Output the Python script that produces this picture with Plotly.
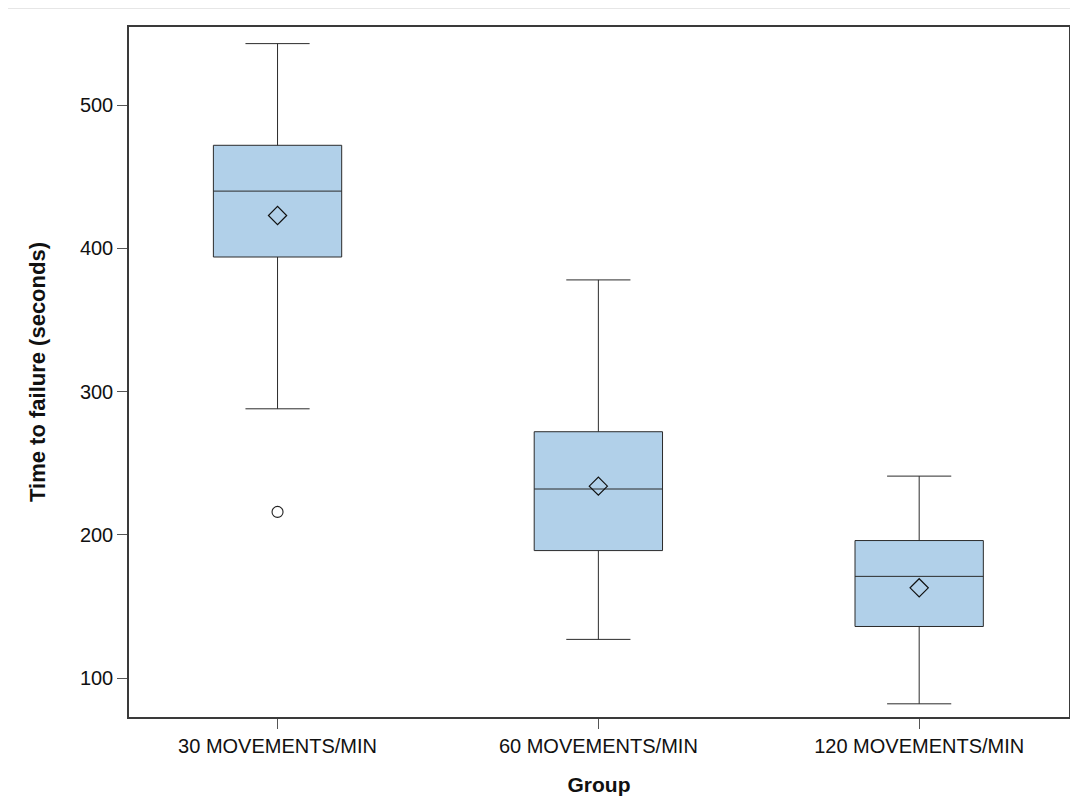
import plotly.graph_objects as go

groups = ["30 MOVEMENTS/MIN", "60 MOVEMENTS/MIN", "120 MOVEMENTS/MIN"]
lower_whisker = [288, 127, 82]
q1 = [394, 189, 136]
median = [440, 232, 171]
q3 = [472, 272, 196]
upper_whisker = [543, 378, 241]
means = [423, 234, 163]
outlier_groups = ["30 MOVEMENTS/MIN"]
outlier_values = [216]
y_ticks = [100, 200, 300, 400, 500]

FONT = "Liberation Sans, Arial, sans-serif"
LINE = "#2b2b2b"

fig = go.Figure()
fig.add_trace(go.Box(
    x=groups, q1=q1, median=median, q3=q3,
    lowerfence=lower_whisker, upperfence=upper_whisker,
    boxpoints=False, width=0.4, whiskerwidth=0.5,
    fillcolor="#B1D0E9", line=dict(color=LINE, width=1),
    showlegend=False, hoverinfo="skip",
))
fig.add_trace(go.Scatter(
    x=groups, y=means, mode="markers",
    marker=dict(symbol="diamond-open", size=14, color="#111111", line=dict(width=1.2)),
    showlegend=False,
))
fig.add_trace(go.Scatter(
    x=outlier_groups, y=outlier_values, mode="markers",
    marker=dict(symbol="circle-open", size=11, color="#222222", line=dict(width=1.1)),
    showlegend=False,
))

fig.update_layout(
    width=1070, height=795,
    margin=dict(l=121, r=7, t=18.5, b=86),
    paper_bgcolor="white", plot_bgcolor="white",
    font=dict(family=FONT, size=20, color="#111111"),
    xaxis=dict(
        type="category", categoryorder="array", categoryarray=groups,
        range=[-0.463, 2.467],
        showline=True, linecolor="#3a3a3a", linewidth=1.5, mirror=True,
        ticks="outside", ticklen=10, tickcolor="#555555", tickwidth=1,
        showgrid=False, zeroline=False,
        tickfont=dict(family=FONT, size=20, color="#111111"),
        title=dict(text="<b>Group</b>", font=dict(family=FONT, size=21, color="#111111"), standoff=22),
    ),
    yaxis=dict(
        range=[72.8, 554.6], tickvals=y_ticks,
        showline=True, linecolor="#3a3a3a", linewidth=1.5, mirror=True,
        ticks="outside", ticklen=10, tickcolor="#555555", tickwidth=1,
        showgrid=False, zeroline=False,
        tickfont=dict(family=FONT, size=20, color="#111111"),
        title=dict(text="<b>Time to failure (seconds)</b>", font=dict(family=FONT, size=22, color="#111111"), standoff=28),
    ),
    shapes=[dict(type="line", xref="paper", yref="paper",
                 x0=-0.1295, x1=1.0074, y0=1.0268, y1=1.0268,
                 line=dict(color="#e6e6e6", width=1))],
)

fig.write_html("out.html")
